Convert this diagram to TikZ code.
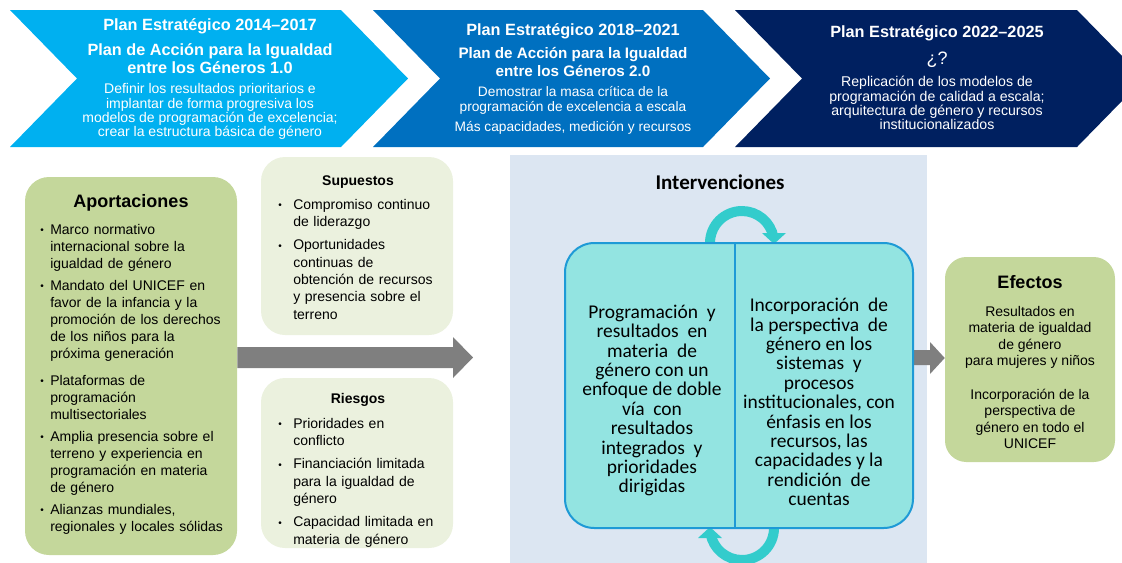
\documentclass[tikz,border=0pt]{standalone}
\usepackage{fontspec}
\setmainfont{Liberation Sans}
\newfontfamily\calib{Carlito}
\usetikzlibrary{calc}
\definecolor{chevA}{HTML}{00B0F0}
\definecolor{chevB}{HTML}{0070C0}
\definecolor{chevC}{HTML}{002060}
\definecolor{boxgreen}{HTML}{C4D79B}
\definecolor{boxpale}{HTML}{EBF1DE}
\definecolor{panelbg}{HTML}{DCE6F2}
\definecolor{tealfill}{HTML}{93E4E1}
\definecolor{tealedge}{HTML}{1E9AD6}
\definecolor{cyccol}{HTML}{33CCCC}
\definecolor{arrowgray}{HTML}{7F7F7F}
\newcommand{\fs}[2]{\fontsize{#1}{#2}\selectfont}
\newcommand{\smbul}{\raisebox{0.4pt}{\fontsize{7.5}{7.5}\selectfont\textbullet}}
\newcommand{\bul}[2]{\hangindent=#1\hangafter=1\noindent\makebox[#1][l]{\smbul}#2\par}
\begin{document}
\begin{tikzpicture}[x=0.75pt,y=-0.75pt,
  chevT/.style={text=white, align=center, inner sep=0pt, font=\bfseries\fs{12.2}{13.5}},
  chevS/.style={text=white, align=center, inner sep=0pt},
  boxbase/.style={draw=none, inner sep=0pt},
  gbox/.style={boxbase, fill=boxgreen, rounded corners=18pt},
  pbox/.style={boxbase, fill=boxpale, rounded corners=18pt},
  ttl/.style={inner sep=0pt, font=\bfseries\fs{13.5}{15}},
  sttl/.style={inner sep=0pt, font=\bfseries\fs{10.5}{12}},
  lst/.style={inner sep=0pt, anchor=north west, align=left},
  cyc/.style={draw=cyccol, line width=7.5pt},
  garrow/.style={fill=arrowgray, draw=none}]
\useasboundingbox (0,0) rectangle (1122,562);
\clip (0,0) rectangle (1122,562);

% ---- chevrons ----
\fill[chevA] (10,10) -- (341,10) -- (408,78.5) -- (341,147) -- (10,147) -- (77,78.5) -- cycle;
\fill[chevB] (373,10) -- (703,10) -- (770,78.5) -- (703,147) -- (373,147) -- (440,78.5) -- cycle;
\fill[chevC] (735,10) -- (1077,10) -- (1144,78.5) -- (1077,147) -- (735,147) -- (802,78.5) -- cycle;

\node[chevT] (c1t) at (210,26) {Plan Estratégico 2014–2017};
\node[chevS, font=\bfseries\fs{12.2}{13.5}] (c1s) at (210,59) {Plan de Acción para la Igualdad\\entre los Géneros 1.0};
\node[chevS, font=\fs{10.5}{10.6}] (c1b) at (210,111.5) {Definir los resultados prioritarios e\\implantar de forma progresiva los\\modelos de programación de excelencia;\\crear la estructura básica de género};

\node[chevT] (c2t) at (573,31) {Plan Estratégico 2018–2021};
\node[chevS, font=\bfseries\fs{11.4}{13.5}] (c2s) at (573,62) {Plan de Acción para la Igualdad\\entre los Géneros 2.0};
\node[chevS, font=\fs{10.3}{11.25}] (c2b) at (573,100.5) {Demostrar la masa crítica de la\\programación de excelencia a escala};
\node[chevS, font=\fs{10.3}{11.25}] (c2c) at (573,128) {Más capacidades, medición y recursos};

\node[chevT] (c3t) at (937,33) {Plan Estratégico 2022–2025};
\node[chevS, font=\fs{13.5}{14}] (c3q) at (937,60) {¿?};
\node[chevS, font=\fs{10.6}{10.7}] (c3b) at (937,103) {Replicación de los modelos de\\programación de calidad a escala;\\arquitectura de género y recursos\\institucionalizados};

% ---- left boxes ----
\node[gbox, minimum width=159pt, minimum height=283.5pt] (aport) at (131,366) {};
\node[ttl] (aportT) at (131,203) {Aportaciones};
\node[lst, text width=142.5pt, font=\fs{10.5}{12.75}] (aportL) at (40,223.6) {%
\setlength\parskip{3.75pt}%
\bul{7.5pt}{Marco normativo\newline internacional sobre la\newline igualdad de género}%
\bul{7.5pt}{Mandato del UNICEF en\newline favor de la infancia y la\newline promoción de los derechos\newline de los niños para la\newline próxima generación}%
\vspace{3.75pt}%
\bul{7.5pt}{Plataformas de\newline programación\newline multisectoriales}%
\bul{7.5pt}{Amplia presencia sobre el\newline terreno y experiencia en\newline programación en materia\newline de género}%
\bul{7.5pt}{Alianzas mundiales,\newline regionales y locales sólidas}};

\node[pbox, minimum width=144pt, minimum height=133.5pt] (sup) at (357,246) {};
\node[sttl] (supT) at (358,182) {Supuestos};
\node[lst, text width=131pt, font=\fs{10.5}{13}] (supL) at (278,198.6) {%
\setlength\parskip{4.5pt}%
\bul{11.25pt}{Compromiso continuo\newline de liderazgo}%
\bul{11.25pt}{Oportunidades\newline continuas de\newline obtención de recursos\newline y presencia sobre el\newline terreno}};

\node[pbox, minimum width=144pt, minimum height=127.5pt] (ries) at (357,463) {};
\node[sttl] (riesT) at (358,400) {Riesgos};
\node[lst, text width=131pt, font=\fs{10.5}{13}] (riesL) at (278,417.6) {%
\setlength\parskip{4.5pt}%
\bul{11.25pt}{Prioridades en\newline conflicto}%
\bul{11.25pt}{Financiación limitada\newline para la igualdad de\newline género}%
\bul{11.25pt}{Capacidad limitada en\newline materia de género}};

% ---- intervenciones ----
\node[boxbase, fill=panelbg, minimum width=312.75pt, minimum height=311.25pt] (panel) at (718.5,362.5) {};
\node[inner sep=0pt, font=\calib\bfseries\fs{15.75}{17}] (panelT) at (720,182) {Intervenciones};

\draw[cyc] (710,243) arc[start angle=180, end angle=350, radius=32];
\fill[cyccol] (762,233) -- (786,233) -- (774,244) -- cycle;
\begin{scope}[rotate around={180:(742,385.5)}]
\draw[cyc] (710,243) arc[start angle=180, end angle=350, radius=32];
\fill[cyccol] (762,233) -- (786,233) -- (774,244) -- cycle;
\end{scope}

% ---- efectos + small arrow ----
\node[gbox, rounded corners=16pt, minimum width=127.5pt, minimum height=153.75pt] (efec) at (1030,359.5) {};
\fill[garrow] (907,350) -- (930,350) -- (930,342) -- (efec.west |- 0,358) -- (930,374) -- (930,365) -- (907,365) -- cycle;

\node[boxbase, draw=tealedge, line width=1.5pt, fill=tealfill, rounded corners=22pt, minimum width=261pt, minimum height=213.75pt] (inter) at (739,385.5) {};
\draw[tealedge, line width=1.5pt] (inter.north -| 735,0) -- (inter.south -| 735,0);

\node[inner sep=0pt, align=center, font=\calib\fs{14.6}{14.55}] (interL) at (652,400.5) {Programación\ \ y\\resultados\ \ en\\materia\ \ de\\género con un\\enfoque de doble\\vía\ \ con\\resultados\\integrados\ \ y\\prioridades\\dirigidas};
\node[inner sep=0pt, align=center, font=\calib\fs{14.6}{14.55}] (interR) at (819,402) {Incorporación\ \ de\\la perspectiva\ \ de\\género en los\\sistemas\ \ y\\procesos\\institucionales, con\\énfasis en los\\recursos, las\\capacidades y la\\rendición\ \ de\\cuentas};

\node[ttl] (efecT) at (1030,282) {Efectos};
\node[inner sep=0pt, align=center, font=\fs{10.5}{12.45}] (efecB) at (1030,377.5) {Resultados en\\materia de igualdad\\de género\\para mujeres y niños\\[12.45pt]Incorporación de la\\perspectiva de\\género en todo el\\UNICEF};

% ---- big arrow ----
\fill[garrow] (aport.east |- 0,347) -- (453,347) -- (453,337) -- (473,357.5) -- (453,378) -- (453,368) -- (aport.east |- 0,368) -- cycle;
\end{tikzpicture}
\end{document}
